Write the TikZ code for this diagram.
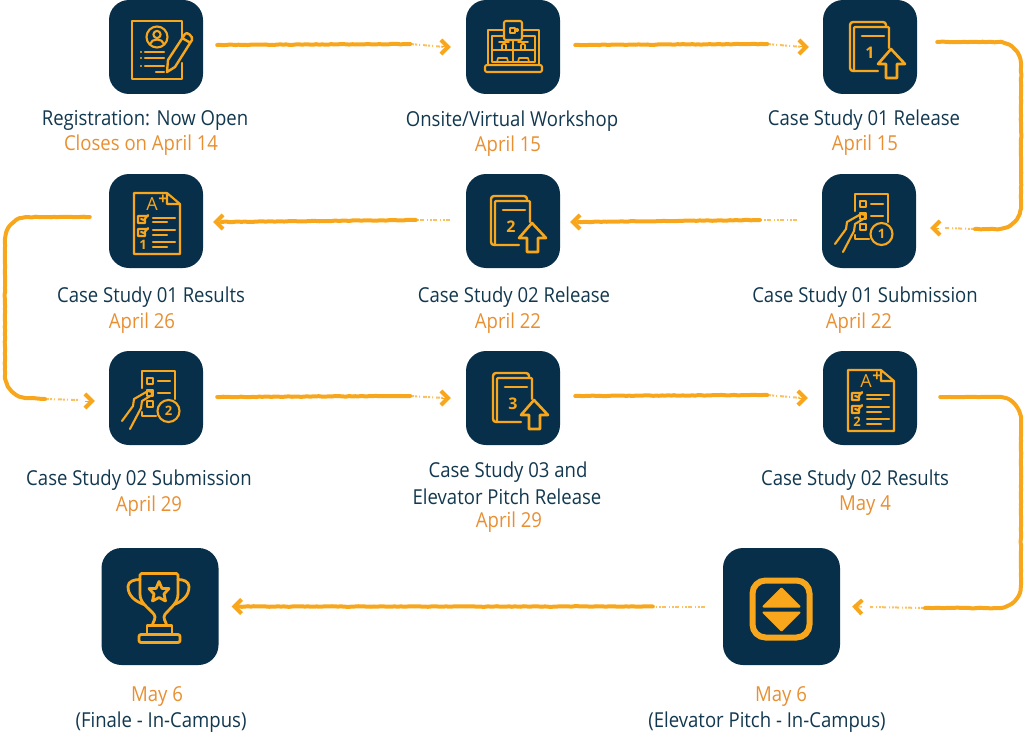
\documentclass[tikz,border=0pt]{standalone}
\usepackage{fontspec}
\setmainfont{Open Sans}
\newfontfamily\labfont[FakeStretch=0.9]{Open Sans}
\usetikzlibrary{arrows.meta,calc,decorations.pathmorphing}
\definecolor{navy}{HTML}{082F49}
\definecolor{ink}{HTML}{12384F}
\definecolor{amber}{HTML}{F8A71C}
\definecolor{datecol}{HTML}{E88F32}
\tikzset{
  tile/.style={fill=navy,draw=none,rounded corners=20pt,minimum size=94pt,inner sep=0pt},
  bigtile/.style={tile,minimum size=117pt},
  lab/.style={text=ink,font=\labfont\fontsize{20.6}{22}\selectfont,inner sep=0pt,anchor=center,yshift=-1pt},
  dat/.style={text=datecol,font=\labfont\fontsize{20.6}{22}\selectfont,inner sep=0pt,anchor=center,yshift=-1pt},
  ic/.style={draw=amber,line width=2.1pt,line join=round,line cap=round},
  dig/.style={text=amber,font=\fontsize{16}{16}\selectfont\bfseries,inner sep=0pt},
  brush/.style={draw=amber,line width=4pt,line cap=round,line join=round,decorate,
    decoration={random steps,segment length=3pt,amplitude=.3pt}},
  fadeline/.style={draw=amber,line width=2pt,dash pattern=on 4pt off 1pt on 2pt off 2pt on 1pt off 3pt,opacity=.7},
  tipline/.style={draw=amber,line width=1pt,-{Straight Barb[length=7pt,width=14pt,line width=4pt]}},
}
\newcommand\brushR[3]{%
  \draw[brush] (#1) -- (#2);
  \draw[fadeline] (#2) -- ($(#3)+(-6,0)$);
  \draw[tipline] ($(#3)+(-9,0)$) -- (#3);
}
\newcommand\brushL[3]{%
  \draw[fadeline] (#1) -- (#2);
  \draw[brush] (#2) -- ($(#3)+(8,0)$);
  \draw[tipline] ($(#3)+(10,0)$) -- (#3);
}
\newcommand\bookicon[1]{%
  \draw[ic,line width=2.4pt,rounded corners=3pt] (16,-20) -- (16,-25) -- (-20,-25) -- (-20,24) -- (8,24);
  \draw[ic,line width=2.4pt,rounded corners=1pt] (-16,24) -- (-16,-20) -- (19,-20) -- (19,1);
  \draw[ic,line width=2.6pt] (-8,-11) -- (14,-11);
  \node[dig] at (0,6) {#1};
  \draw[ic,line width=2.6pt] (21,2) -- (35,17) -- (27,17) -- (27,31) -- (16,31) -- (16,17) -- (8,17) -- cycle;
}
\newcommand\gradeicon[1]{%
  \draw[ic] (11,-28) -- (-22,-28) -- (-22,33) -- (24,33) -- (24,-17) -- cycle (11,-28) -- (11,-17) -- (24,-17);
  \node[dig,font=\fontsize{18}{18}\selectfont] at (-4,-17) {A};
  \node[dig] at (7,-21) {+};
  \draw[ic] (-8,-5) -- (-18,-5) -- (-18,2) -- (-11,2) -- (-11,-1) (-15,-2) -- (-12,-1) -- (-8,-6);
  \draw[ic] (-8,8) -- (-18,8) -- (-18,15) -- (-11,15) -- (-11,12) (-15,11) -- (-12,12) -- (-8,7);
  \node[dig,font=\fontsize{13}{13}\selectfont\bfseries] at (-13,24) {#1};
  \draw[ic] (-3,-3) -- (19,-3) (-3,1) -- (11,1) (-3,9) -- (19,9) (-3,14) -- (11,14) (-3,21) -- (19,21) (-3,26) -- (11,26);
}
\newcommand\handicon[1]{%
  \draw[ic] (-14,-10) -- (-14,-27) -- (19,-27) -- (19,1) (0,18) -- (-14,18) -- (-14,14);
  \draw[ic] (-9,-20) rectangle (-3,-14) (-9,-8) rectangle (-3,-2) (-9,3) rectangle (-3,9);
  \draw[ic] (2,-17) -- (14,-17) (2,-5) -- (14,-5);
  \draw[ic] (12.5,13) circle (11);
  \node[dig,font=\fontsize{13}{13}\selectfont\bfseries] at (12.5,13) {#1};
  \draw[ic] (-34,23) -- (-23,8) -- (-22,1) -- (-8,-7) -- (-4,-6) -- (-4,-3) -- (-14,3) -- (-15,10) -- (-26,31);
}
\begin{document}
\begin{tikzpicture}[x=1pt,y=-1pt]
\useasboundingbox (0,0) rectangle (1024,733);
% tiles
\node[tile] (b1) at (156,47) {};
\node[tile] (b2) at (513,47) {};
\node[tile] (b3) at (870,47) {};
\node[tile] (b4) at (869,221) {};
\node[tile] (b5) at (513,221) {};
\node[tile] (b6) at (156,221) {};
\node[tile] (b7) at (156,398) {};
\node[tile] (b8) at (513,398) {};
\node[tile] (b9) at (870,398) {};
\node[bigtile] (b10) at (781.5,606.5) {};
\node[bigtile] (b11) at (160,606.5) {};
% icon 1
\begin{scope}[shift={(b1.center)}]
  \draw[ic] (26,-9) -- (26,-26) -- (-24,-26) -- (-24,32) -- (26,32) -- (26,16);
  \draw[ic] (1,-10) circle (10.5) (1,-12.5) circle (3.6);
  \draw[ic] (-6,-3) to[out=70,in=180] (1,-7.5) to[out=0,in=110] (8,-3);
  \draw[ic] (-11,5) -- (8,5) (-11,11) -- (8,11) (-11,19) -- (8,19) (0,25) -- (8,25);
  \draw[ic] (-15,5) -- (-15,5.01) (-15,11) -- (-15,11.01) (-15,19) -- (-15,19.01);
  \draw[ic,line width=2.4pt] (11,25) -- (12,13) -- (29,-13) to[out=70,in=60] (36,-7) -- (19,20) -- cycle (26,-9) -- (33,-5);
\end{scope}
% icon 2 laptop
\begin{scope}[shift={(b2.center)}]
  \draw[ic,rounded corners=2pt] (-28,18) -- (29,18) -- (29,25) -- (-28,25) -- cycle;
  \draw[ic] (-25,18) -- (-25,-17) -- (-9,-17) (9,-17) -- (26,-17) -- (26,18);
  \draw[ic,line width=1.7pt] (-21,15) -- (-21,-11) -- (-9,-11) (9,-11) -- (22,-11) -- (22,15) -- (-21,15);
  \draw[ic,line width=1.7pt] (0,-7) -- (0,15) (-21,3) -- (22,3);
  \draw[ic,rounded corners=2pt] (-9,-26) rectangle (9,-7);
  \draw[ic,line width=1.7pt] (-3,-19) rectangle (2,-14) (4,-17) circle (1.3);
  \draw[ic,line width=1.7pt,rounded corners=1pt] (-14,-5) -- (-4,-5) (-11,-3) rectangle (-7,3);
  \draw[ic,line width=1.7pt,rounded corners=1pt] (5,-5) -- (15,-5) (8,-3) rectangle (12,3);
  \draw[ic,line width=1.7pt] (-16,15) -- (-15,11) -- (-6,11) -- (-5,15) (5,15) -- (6,11) -- (15,11) -- (16,15);
\end{scope}
\begin{scope}[shift={(b3.center)}]\bookicon{1}\end{scope}
\begin{scope}[shift={(b4.center)}]\handicon{1}\end{scope}
\begin{scope}[shift={($(b5.center)+(-2,0)$)}]\bookicon{2}\end{scope}
\begin{scope}[shift={(b6.center)}]\gradeicon{1}\end{scope}
\begin{scope}[shift={(b7.center)}]\handicon{2}\end{scope}
\begin{scope}[shift={(b8.center)}]\bookicon{3}\end{scope}
\begin{scope}[shift={(b9.center)}]\gradeicon{2}\end{scope}
% icon elevator
\begin{scope}[shift={(b10.center)}]
  \draw[amber,line width=6pt,rounded corners=13pt] (-29,-26) rectangle (28,31);
  \fill[amber,draw=amber,line width=2pt,line join=round] (0,-18) -- (18,0) -- (-18,0) -- cycle;
  \fill[amber,draw=amber,line width=2pt,line join=round] (0,24) -- (18,6) -- (-18,6) -- cycle;
\end{scope}
% trophy
\begin{scope}[shift={(b11.center)}]
  \draw[ic,line width=2.8pt,rounded corners=1.5pt] (-20,-33) -- (18,-33) -- (18,-14) to[out=-90,in=50] (4,9) -- (4,12) -- (7,19) -- (-8,19) -- (-5,12) -- (-5,9) to[out=130,in=-90] (-20,-14) -- cycle;
  \draw[ic,line width=2.8pt] (-20,-27) to[out=180,in=90] (-32,-20) to[out=-90,in=160] (-16,-2);
  \draw[ic,line width=2.8pt] (18,-27) to[out=0,in=90] (29,-20) to[out=-90,in=20] (14,-2);
  \draw[ic,line width=2.8pt] (-13,19) rectangle (12,28);
  \draw[ic,line width=2.8pt,rounded corners=2pt] (-21,28) rectangle (20,36);
  \draw[ic,line width=2.8pt] (-1,-25) -- (2,-18) -- (9,-18) -- (4,-12.5) -- (5.5,-5.5) -- (-1,-9) -- (-7.5,-5.5) -- (-6,-12.5) -- (-11,-18) -- (-4,-18) -- cycle;
\end{scope}
% connectors
\pgfmathsetseed{7}
\brushR{$(b1.east)+(14,-2)$}{$(b1.east)+(207,-3)$}{$(b2.west)+(-15,0)$}
\brushR{$(b2.east)+(15,-2)$}{$(b2.east)+(207,-3)$}{$(b3.west)+(-14,0)$}
% b3 -> b4
\draw[brush] ($(b3.east)+(20,-5)$) -- (998,42) to[out=0,in=90] (1021,65) -- (1021,205) to[out=-90,in=0] (998,229) -- (975,229);
\draw[fadeline] (975,229) -- (945,228);
\draw[tipline] (939,228) -- ($(b4.east)+(14,7)$);
\brushL{$(b4.west)+(-25,-1)$}{$(b4.west)+(-62,-1)$}{$(b5.east)+(10,1)$}
\brushL{$(b5.west)+(-16,-1)$}{$(b5.west)+(-50,-1)$}{$(b6.east)+(10,1)$}
% b6 -> b7
\draw[brush] ($(b6.west)+(-19,-4)$) -- (28,217) to[out=180,in=90] (5,240) -- (5,375) to[out=-90,in=180] (28,398) -- (45,399);
\draw[fadeline] (45,399) -- (80,400);
\draw[tipline] (85,401) -- ($(b7.west)+(-14,3)$);
\brushR{$(b7.east)+(14,-1)$}{$(b7.east)+(207,-2)$}{$(b8.west)+(-15,0)$}
\brushR{$(b8.east)+(15,-2)$}{$(b8.east)+(207,-3)$}{$(b9.west)+(-15,0)$}
% b9 -> b10
\draw[brush] ($(b9.east)+(23,-1)$) -- (998,397) to[out=0,in=90] (1021,420) -- (1021,585) to[out=-90,in=0] (998,608) -- (925,608);
\draw[fadeline] (925,608) -- (870,607);
\draw[tipline] (862,607) -- ($(b10.east)+(12,0)$);
\brushL{$(b10.west)+(-18,0)$}{$(b10.west)+(-70,0)$}{$(b11.east)+(13,0)$}
% labels
\node[lab] (t1) at (145,119) {Registration: Now Open};
\node[dat] (d1) at (141,144) {Closes on April 14};
\node[lab] (t2) at (512,120) {Onsite/Virtual Workshop};
\node[dat] (d2) at (508,145) {April 15};
\node[lab] (t3) at (864,119) {Case Study 01 Release};
\node[dat] (d3) at (865,144) {April 15};
\node[lab] (t4) at (865,296) {Case Study 01 Submission};
\node[dat] (d4) at (859,322) {April 22};
\node[lab] (t5) at (514,296) {Case Study 02 Release};
\node[dat] (d5) at (508,322) {April 22};
\node[lab] (t6) at (151,296) {Case Study 01 Results};
\node[dat] (d6) at (142,322) {April 26};
\node[lab] (t7) at (139,479) {Case Study 02 Submission};
\node[dat] (d7) at (149,505) {April 29};
\node[lab] (t8) at (508,471) {Case Study 03 and};
\node[lab] (t8b) at (507,496) {Elevator Pitch Release};
\node[dat] (d8) at (509,521) {April 29};
\node[lab] (t9) at (855,479) {Case Study 02 Results};
\node[dat] (d9) at (865,505) {May 4};
\node[dat] (d11) at (157,696) {May 6};
\node[lab] (t11) at (161,721) {(Finale - In-Campus)};
\node[dat] (d10) at (781,696) {May 6};
\node[lab] (t10) at (767,721) {(Elevator Pitch - In-Campus)};
\end{tikzpicture}
\end{document}
